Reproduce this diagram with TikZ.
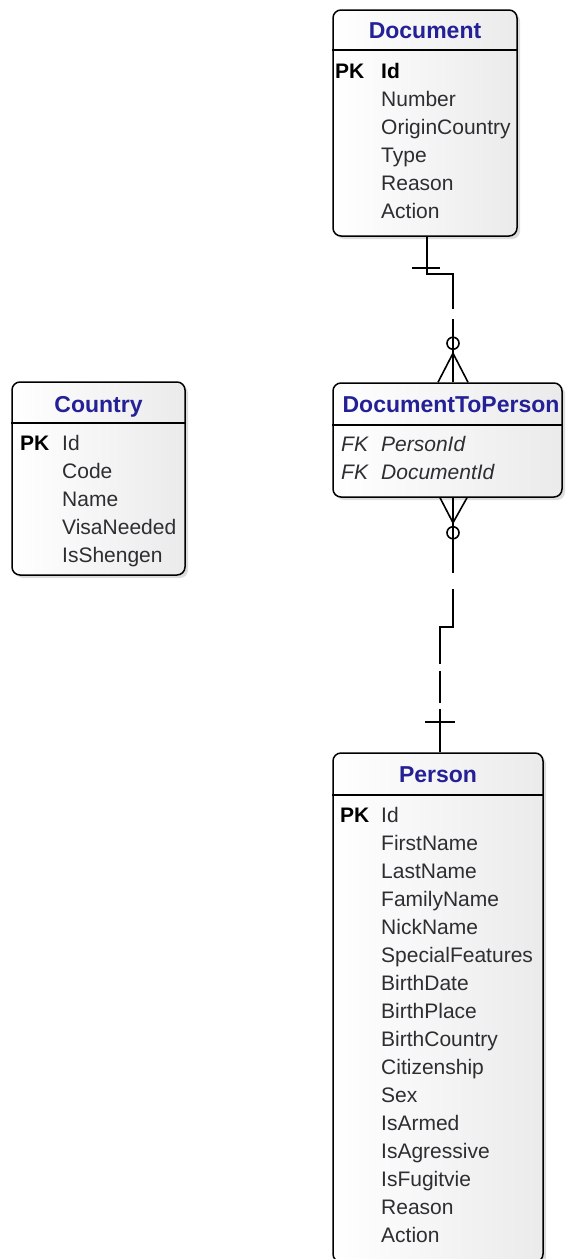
\documentclass[tikz,border=0pt]{standalone}
\usepackage{fontspec}
\setmainfont{Liberation Sans}
\usetikzlibrary{shadows,calc}

\definecolor{headblue}{RGB}{36,32,150}
\definecolor{rowgray}{RGB}{45,45,50}

\tikzset{
  entity/.style={rectangle, rounded corners=8pt, draw=black, line width=1.5pt,
    left color=white, right color=gray!16, inner sep=0pt,
    drop shadow={shadow xshift=3pt, shadow yshift=-3pt, fill=gray!55}},
  tabtitle/.style={anchor=base, inner sep=0pt, text=headblue,
    font=\fontsize{23}{27}\selectfont\bfseries},
  rowname/.style={anchor=base west, inner sep=0pt, text=rowgray,
    font=\fontsize{21}{25}\selectfont},
  keyname/.style={anchor=base west, inner sep=0pt, text=black,
    font=\fontsize{21}{25}\selectfont\bfseries},
  fkname/.style={anchor=base west, inner sep=0pt, text=rowgray,
    font=\fontsize{21}{25}\selectfont\itshape},
  sepline/.style={line width=1.3pt},
  rel/.style={line width=1.6pt},
}

\begin{document}
\begin{tikzpicture}[x=1pt,y=-1pt]
\useasboundingbox (0,0) rectangle (566,1259);

% Document table
\node[entity, minimum width=184pt, minimum height=226pt] (doc) at (425,123) {};
\draw[sepline] (doc.west |- 0,50) -- (doc.east |- 0,50);
\node[tabtitle] (doc-title) at (425,38) {Document};
\node[keyname] (doc-pk) at (335,78) {PK};
\node[keyname] (doc-id) at (381,78) {Id};
\foreach \f [count=\i] in {Number,OriginCountry,Type,Reason,Action}
  \node[rowname] (doc-\i) at (381,78+28*\i) {\f};

% Country table
\node[entity, minimum width=173pt, minimum height=193pt] (country) at (98.5,478.5) {};
\draw[sepline] (country.west |- 0,423) -- (country.east |- 0,423);
\node[tabtitle] (country-title) at (98.5,412) {Country};
\node[keyname] (country-pk) at (20,450) {PK};
\node[rowname] (country-id) at (62,450) {Id};
\foreach \f [count=\i] in {Code,Name,VisaNeeded,IsShengen}
  \node[rowname] (country-\i) at (62,450+28*\i) {\f};

% DocumentToPerson table
\node[entity, minimum width=229pt, minimum height=114pt] (dtp) at (447.5,440) {};
\draw[sepline] (dtp.west |- 0,425) -- (dtp.east |- 0,425);
\node[tabtitle] (dtp-title) at (451,412) {DocumentToPerson};
\node[fkname] (dtp-fk1) at (341,451) {FK};
\node[fkname] (dtp-1) at (381,451) {PersonId};
\node[fkname] (dtp-fk2) at (341,479) {FK};
\node[fkname] (dtp-2) at (381,479) {DocumentId};

% Person table
\node[entity, minimum width=210pt, minimum height=509pt] (person) at (438,1007.5) {};
\draw[sepline] (person.west |- 0,795) -- (person.east |- 0,795);
\node[tabtitle] (person-title) at (438,782) {Person};
\node[keyname] (person-pk) at (340,822) {PK};
\node[rowname] (person-id) at (381,822) {Id};
\foreach \f [count=\i] in {FirstName,LastName,FamilyName,NickName,SpecialFeatures,
    BirthDate,BirthPlace,BirthCountry,Citizenship,Sex,IsArmed,IsAgressive,
    IsFugitvie,Reason,Action}
  \node[rowname] (person-\i) at (381,822+28*\i) {\f};

% Document -- DocumentToPerson (one to zero or many)
\coordinate (up-a) at ($(doc.south)+(2,0)$);
\coordinate (up-b) at ($(dtp.north)+(5.5,0)$);
\draw[rel, dash pattern=on 98pt off 10pt] (up-a) -- ++(0,37) -| (up-b);
\draw[rel] ($(up-a)+(-15,31)$) -- ($(up-a)+(13,31)$);
\draw[rel] ($(up-b)+(0,-39)$) circle (6pt);
\draw[rel] ($(up-b)+(-15,0)$) -- ($(up-b)+(0,-29)$) -- ($(up-b)+(15,0)$);

% DocumentToPerson -- Person (zero or many to one)
\coordinate (lo-a) at ($(dtp.south)+(5.5,0)$);
\coordinate (lo-b) at ($(person.north)+(2,0)$);
\draw[rel, dash pattern=on 75pt off 16pt on 88pt off 7pt on 32pt off 6pt on 60pt]
  (lo-a) -- ++(0,129) -| (lo-b);
\draw[rel] ($(lo-a)+(-13,0)$) -- ($(lo-a)+(0,25)$) -- ($(lo-a)+(14,0)$);
\draw[rel] ($(lo-a)+(0,35)$) circle (6pt);
\draw[rel] ($(lo-b)+(-15,-30)$) -- ($(lo-b)+(15,-30)$);

\end{tikzpicture}
\end{document}
